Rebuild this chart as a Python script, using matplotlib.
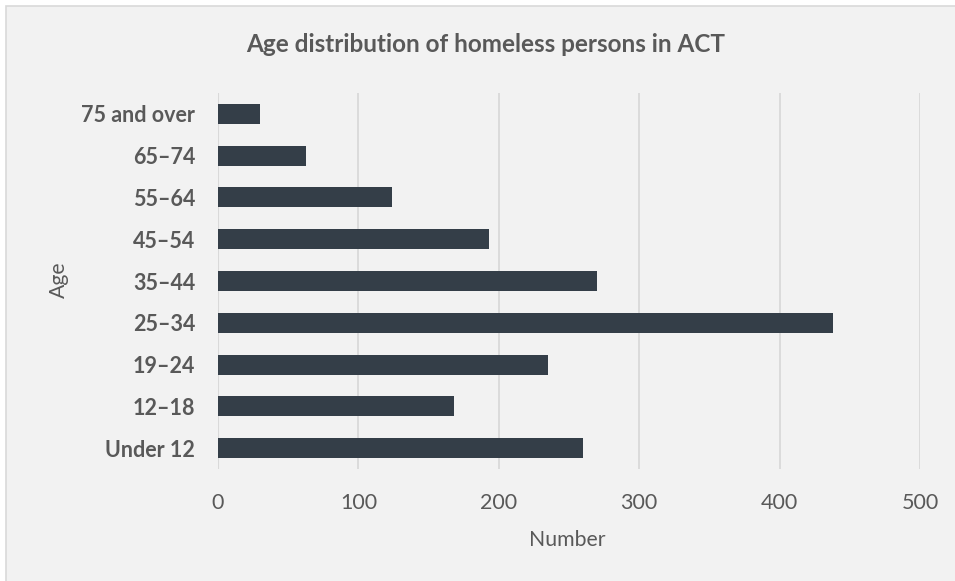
import matplotlib
matplotlib.use("Agg")
import matplotlib.pyplot as plt
from matplotlib.patches import Rectangle

# Age groups, bottom to top as drawn
age_groups = ["Under 12", "12\u201318", "19\u201324", "25\u201334", "35\u201344",
              "45\u201354", "55\u201364", "65\u201374", "75 and over"]
persons = [260, 168, 235, 438, 270, 193, 124, 63, 30]
x_ticks = [0, 100, 200, 300, 400, 500]

plt.rcParams["font.family"] = ["Lato", "DejaVu Sans"]

W, H = 955, 581
fig = plt.figure(figsize=(W / 100, H / 100), dpi=100, facecolor="white")

# chart panel with thin border
fig.patches.append(Rectangle((6 / W, -0.05), 1.05, 1 - 6 / H + 0.05,
                             transform=fig.transFigure, facecolor="#f2f2f2",
                             edgecolor="#d9d9d9", linewidth=1.2, zorder=-10))

ax = fig.add_axes([218 / W, 1 - 469 / H, (920 - 218) / W, (469 - 93) / H])
ax.set_facecolor("none")

ypos = list(range(len(age_groups)))
ax.barh(ypos, persons, height=0.48, color="#343e48", zorder=3)

ax.set_xlim(0, 500)
ax.set_ylim(-0.5, len(age_groups) - 0.5)
ax.set_xticks(x_ticks)
ax.set_xticklabels([str(t) for t in x_ticks])
ax.set_yticks(ypos)
ax.set_yticklabels(age_groups, fontweight="bold")

for s in ax.spines.values():
    s.set_visible(False)
ax.grid(axis="x", color="#d9d9d9", linewidth=1.3, zorder=0)
ax.axvline(0, color="#d9d9d9", linewidth=1.5, zorder=1)

ax.tick_params(axis="both", length=0, colors="#595959")
ax.tick_params(axis="x", labelsize=15.5, pad=17)
ax.tick_params(axis="y", labelsize=15.5, pad=16.5)

fig.text(0.509, 1 - 45 / H, "Age distribution of homeless persons in ACT",
         ha="center", va="center", fontsize=17.5, fontweight="bold", color="#595959")
fig.text(567 / W, 1 - 540 / H, "Number", ha="center", va="center",
         fontsize=15.3, color="#595959")
fig.text(59 / W, 1 - 280 / H, "Age", ha="center", va="center", rotation=90,
         fontsize=15.3, color="#595959")

fig.savefig("out.png", dpi=100, facecolor="white")
